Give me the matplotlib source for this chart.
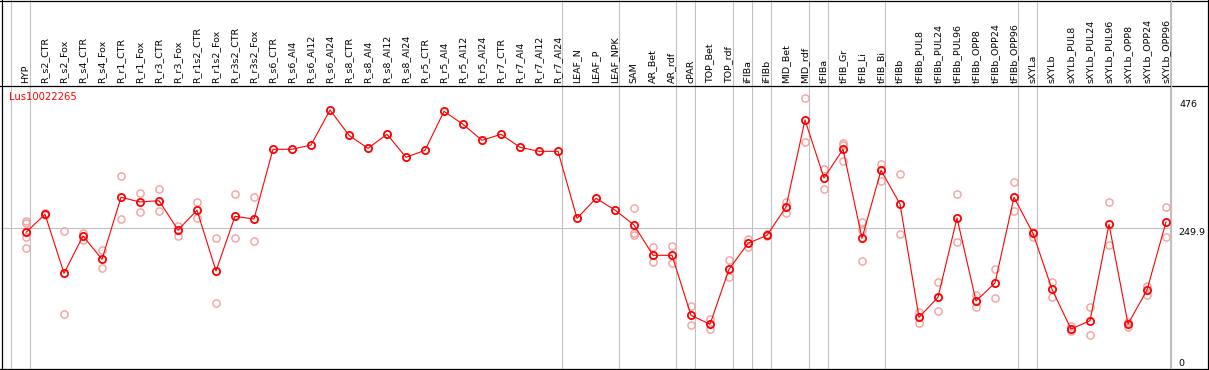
import numpy as np
import matplotlib
matplotlib.use("Agg")
import matplotlib.pyplot as plt
from matplotlib.lines import Line2D
import matplotlib.transforms as mtransforms

plt.rcParams['font.family'] = ['DejaVu Sans']

title = "Lus10022265"

categories = ["HYP", "R_s2_CTR", "R_s2_Fox", "R_s4_CTR", "R_s4_Fox", "R_r1_CTR", "R_r1_Fox",
              "R_r3_CTR", "R_r3_Fox", "R_r1s2_CTR", "R_r1s2_Fox", "R_r3s2_CTR", "R_r3s2_Fox",
              "R_s6_CTR", "R_s6_Al4", "R_s6_Al12", "R_s6_Al24", "R_s8_CTR", "R_s8_Al4",
              "R_s8_Al12", "R_s8_Al24", "R_r5_CTR", "R_r5_Al4", "R_r5_Al12", "R_r5_Al24",
              "R_r7_CTR", "R_r7_Al4", "R_r7_Al12", "R_r7_Al24", "LEAF_N", "LEAF_P", "LEAF_NPK",
              "SAM", "AR_Bet", "AR_rdf", "cPAR", "TOP_Bet", "TOP_rdf", "iFIBa", "iFIBb",
              "MID_Bet", "MID_rdf", "tFIBa", "tFIB_Gr", "tFIB_Li", "tFIB_Bi", "tFIBb",
              "tFIBb_PUL8", "tFIBb_PUL24", "tFIBb_PUL96", "tFIBb_OPP8", "tFIBb_OPP24",
              "tFIBb_OPP96", "sXYLa", "sXYLb", "sXYLb_PUL8", "sXYLb_PUL24", "sXYLb_PUL96",
              "sXYLb_OPP8", "sXYLb_OPP24", "sXYLb_OPP96"]

means = [242.8, 274.5, 170.6, 236.3, 195.2, 304.5, 296.2, 298.5, 246.9, 281.6, 174.6, 271.0, 266.2,
         389.1, 389.1, 396.6, 458.3, 413.7, 390.8, 415.5, 375.0, 387.3, 456.0, 433.1, 404.9,
         415.5, 392.6, 385.5, 385.5, 267.5, 302.7, 282.1, 255.7, 202.3, 202.3, 96.6, 80.7,
         177.6, 223.4, 237.5, 287.4, 440.7, 338.5, 389.1, 232.2, 352.0, 292.7, 93.0, 128.3,
         268.0, 121.8, 153.5, 304.5, 241.0, 142.4, 72.4, 87.0, 256.9, 81.2, 141.1, 261.0]

replicates = [[262.7, 259.2, 235.1, 214.6], [276.8, 273.3], [245.1, 98.8], [242.1, 229.2],
              [211.6, 179.4], [341.5, 265.7], [311.5, 278.0], [318.6, 280.3], [254.4, 236.3],
              [296.2, 267.5], [232.2, 117.7], [309.8, 232.2], [304.5, 226.9],
              [], [], [], [], [], [], [], [], [], [], [], [], [], [], [], [], [], [], [],
              [285.1, 242.1, 238.6], [216.4, 189.9], [218.7, 188.2], [112.9, 78.9],
              [90.6, 71.9], [193.5, 163.5], [231.0, 216.9], [239.0, 236.0], [295.7, 277.3],
              [478.9, 401.4], [354.9, 318.6], [399.6, 396.6, 369.0], [260.4, 246.9, 191.7],
              [362.6, 333.7], [345.0, 239.8], [101.8, 83.5], [154.7, 104.1], [309.8, 225.2],
              [132.9, 111.7], [177.6, 126.5], [330.9, 279.8], [243.9, 235.1], [154.7, 128.3],
              [78.2, 68.4], [111.2, 61.3], [296.2, 219.9], [85.3, 76.5], [148.2, 131.8],
              [287.4, 234.0]]

group_starts = [0, 1, 29, 32, 35, 36, 38, 39, 40, 42, 43, 46, 53, 54, 61]
y_labels = [476, 249.9, 0]
y_label_texts = ["476", "249.9", "0"]

W, H = 1209, 370
DPI = 100
fig = plt.figure(figsize=(W / DPI, H / DPI), dpi=DPI)

# plot area in pixels
px_l, px_r, px_t, px_b = 1, 1171, 86, 368
ax = fig.add_axes([px_l / W, (H - px_b) / H, (px_r - px_l) / W, (px_b - px_t) / H])
n = len(categories)
x = np.arange(n)
ax.set_xlim(-1.316, 60.263)
ax.set_ylim(3.7, 500.6)
ax.axis('off')

red = '#ff0000'
pink = '#f2a0a0'
fs = 6.8

# separators (extend to top of figure)
top_frac = (px_b - 0) / (px_b - px_t)
for g in group_starts:
    ax.axvline(g - 15 / 19, ymin=0, ymax=top_frac, color='#c0c0c0', lw=0.75, clip_on=False, zorder=1)

ax.axhline(y_labels[1], color='#c0c0c0', lw=0.75, zorder=1)

# replicates
for i, reps in enumerate(replicates):
    if reps:
        ax.plot([i] * len(reps), reps, linestyle='none', marker='o', ms=5.2,
                mfc='none', mec=pink, mew=1.0, zorder=2, clip_on=False)

ax.plot(x, means, color=red, lw=0.8, zorder=3)
ax.plot(x, means, linestyle='none', marker='o', ms=5.2, mfc='none', mec=red, mew=1.3, zorder=4)

# category labels
trans = mtransforms.blended_transform_factory(ax.transData, ax.transAxes)
off = mtransforms.ScaledTranslation(0, 3 / DPI, fig.dpi_scale_trans)
for i, lab in enumerate(categories):
    ax.text(i, 1.0, lab, transform=trans + off, rotation=90, ha='center', va='bottom',
            fontsize=fs, color='black', clip_on=False)

ax.text(8.3 / (px_r - px_l), 0.962, title, transform=ax.transAxes, ha='left', va='center',
        fontsize=7.2, color=red)

# y labels on right
ytrans = mtransforms.blended_transform_factory(ax.transAxes, ax.transData)
xl = 1 + 7 / (px_r - px_l)
ax.text(xl + 1.5 / (px_r - px_l), y_labels[0], y_label_texts[0], transform=ytrans, ha='left', va='top', fontsize=fs)
ax.text(xl, y_labels[1], y_label_texts[1], transform=ytrans, ha='left', va='top', fontsize=fs)
ax.text(xl + 0.5 / (px_r - px_l), 3.7, y_label_texts[2], transform=ytrans, ha='left', va='bottom', fontsize=fs)

# frame lines (figure pixel layout)
def hline(y, x0, x1, color='black'):
    fig.add_artist(Line2D([x0 / W, x1 / W], [1 - y / H, 1 - y / H], color=color, lw=0.9))

def vline(xp, y0, y1, color='black'):
    fig.add_artist(Line2D([xp / W, xp / W], [1 - y0 / H, 1 - y1 / H], color=color, lw=0.9))

hline(0.5, 0, W)
hline(86, 0, W)
hline(368.5, 0, W)
vline(1.5, 0, H)
vline(1208, 0, H)
vline(1171, 0, 368, color='#c0c0c0')

fig.savefig('out.png', dpi=DPI)
